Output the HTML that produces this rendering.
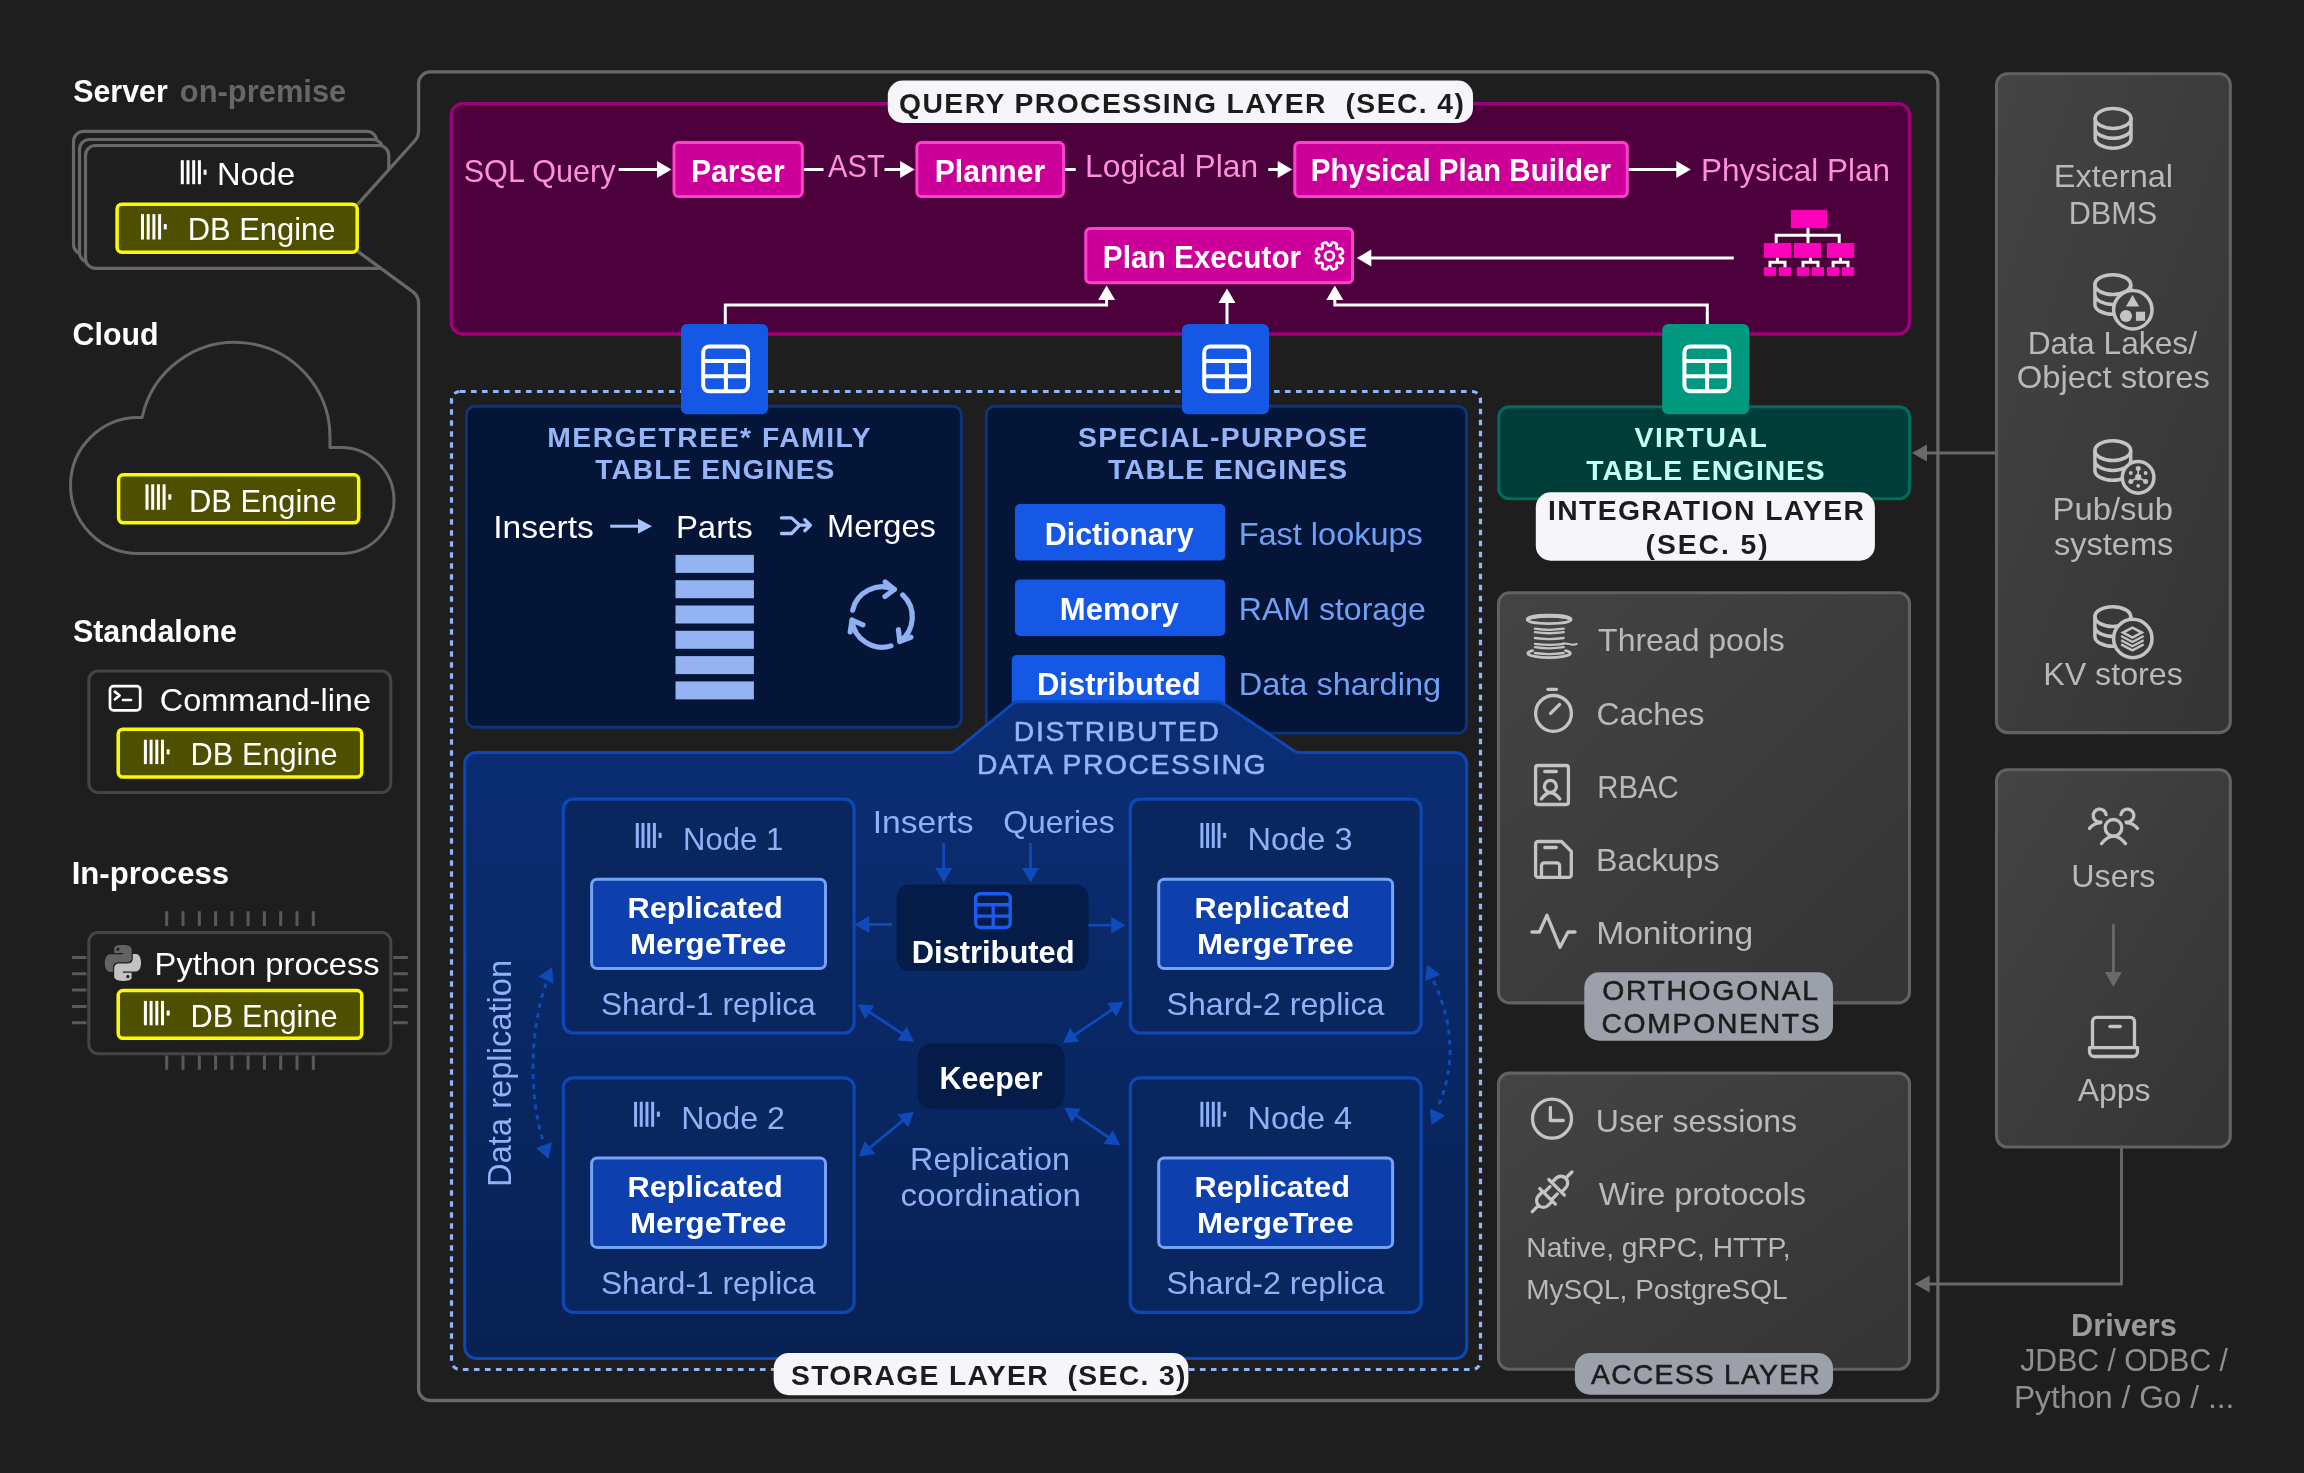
<!DOCTYPE html>
<html><head><meta charset="utf-8"><title>Architecture</title>
<style>
html,body{margin:0;padding:0;background:#1e1e1e;}
body{width:2304px;height:1473px;overflow:hidden;}
svg{display:block;font-family:"Liberation Sans",sans-serif;will-change:transform;}
text{white-space:pre;}
</style></head><body>
<svg xmlns="http://www.w3.org/2000/svg" width="2304" height="1473" viewBox="0 0 2304 1473">
<defs>
<linearGradient id="gpanel" x1="0" y1="0" x2="1" y2="1"><stop offset="0" stop-color="#444444"/><stop offset="1" stop-color="#343434"/></linearGradient>
<linearGradient id="gddp" x1="0" y1="0" x2="0" y2="1"><stop offset="0" stop-color="#0b2e76"/><stop offset="1" stop-color="#072152"/></linearGradient>
</defs>
<rect x="0" y="0" width="2304" height="1473" fill="#1e1e1e"/>
<rect x="73.5" y="131.4" width="303.3" height="122.9" rx="10" fill="#1e1e1e" stroke="#686868" stroke-width="3.2"/>
<rect x="79.5" y="139.5" width="303.3" height="122.9" rx="10" fill="#1e1e1e" stroke="#686868" stroke-width="3.2"/>
<rect x="85.5" y="145.5" width="303.3" height="122.9" rx="10" fill="#1e1e1e"/>
<path d="M388.8,169.9 V155.5 A10 10 0 0 0 378.8,145.5 H95.5 A10 10 0 0 0 85.5,155.5 V258.4 A10 10 0 0 0 95.5,268.4 H380.5" fill="none" stroke="#686868" stroke-width="3.2"/>
<path d="M357.6,204.3 L414.6,141.0 Q418.6,136.6 418.6,130.5 V83.5 A11.6 11.6 0 0 1 430.20000000000005,71.9 H1926.3000000000002 A11.6 11.6 0 0 1 1937.9,83.5 V1388.9 A11.6 11.6 0 0 1 1926.3000000000002,1400.5 H430.20000000000005 A11.6 11.6 0 0 1 418.6,1388.9 V303.5 Q418.6,296.0 413.0,291.9 L357.4,251.1" fill="none" stroke="#686868" stroke-width="3.3" stroke-linejoin="round"/>
<text x="73.2" y="101.7" font-size="31.35" fill="#fff" font-weight="700" textLength="94.6" lengthAdjust="spacingAndGlyphs">Server</text>
<text x="179.8" y="101.7" font-size="31.35" fill="#676767" font-weight="700" textLength="166.5" lengthAdjust="spacingAndGlyphs">on-premise</text>
<rect x="180.80" y="160.2" width="3.0" height="24.0" fill="#fff"/>
<rect x="186.50" y="160.2" width="3.0" height="24.0" fill="#fff"/>
<rect x="192.20" y="160.2" width="3.0" height="24.0" fill="#fff"/>
<rect x="197.90" y="160.2" width="3.0" height="24.0" fill="#fff"/>
<rect x="203.60" y="169.7" width="3.0" height="5.0" fill="#fff"/>
<text x="217.0" y="185.3" font-size="31.35" fill="#fff" textLength="78.1" lengthAdjust="spacingAndGlyphs">Node</text>
<rect x="117.1" y="204.2" width="240.1" height="48.0" rx="4.75" fill="#4f4f00" stroke="#fafa05" stroke-width="3.5"/>
<rect x="141.00" y="214.1" width="3.0" height="25.4" fill="#fff"/>
<rect x="146.70" y="214.1" width="3.0" height="25.4" fill="#fff"/>
<rect x="152.40" y="214.1" width="3.0" height="25.4" fill="#fff"/>
<rect x="158.10" y="214.1" width="3.0" height="25.4" fill="#fff"/>
<rect x="163.80" y="224.1" width="3.0" height="5.3" fill="#fff"/>
<text x="187.7" y="240.3" font-size="31.35" fill="#fff" textLength="147.7" lengthAdjust="spacingAndGlyphs">DB Engine</text>
<text x="72.6" y="344.5" font-size="31.35" fill="#fff" font-weight="700" textLength="85.9" lengthAdjust="spacingAndGlyphs">Cloud</text>
<path d="M138.5,553.5 A68 68 0 0 1 138.5,417.5 H142.1 A95 95 0 0 1 330,437 V447.5 H341 A53 53 0 0 1 341,553.5 Z" fill="none" stroke="#666666" stroke-width="3" stroke-linejoin="round"/>
<rect x="118.6" y="474.8" width="240.1" height="48.0" rx="4.75" fill="#4f4f00" stroke="#fafa05" stroke-width="3.5"/>
<rect x="145.50" y="484.3" width="3.0" height="25.5" fill="#fff"/>
<rect x="151.20" y="484.3" width="3.0" height="25.5" fill="#fff"/>
<rect x="156.90" y="484.3" width="3.0" height="25.5" fill="#fff"/>
<rect x="162.60" y="484.3" width="3.0" height="25.5" fill="#fff"/>
<rect x="168.30" y="494.3" width="3.0" height="5.4" fill="#fff"/>
<text x="189.0" y="511.5" font-size="31.35" fill="#fff" textLength="147.7" lengthAdjust="spacingAndGlyphs">DB Engine</text>
<text x="72.9" y="641.7" font-size="31.35" fill="#fff" font-weight="700" textLength="164.0" lengthAdjust="spacingAndGlyphs">Standalone</text>
<rect x="88.8" y="670.9" width="302.0" height="121.6" rx="9.5" fill="none" stroke="#454545" stroke-width="3"/>
<g fill="none" stroke="#fff" stroke-width="2.7" stroke-linecap="round" stroke-linejoin="round"><rect x="110.0" y="686.2" width="30.2" height="24.2" rx="3.5"/><path d="M114.8,691.6 L119.6,695.5 L115.0,699.3 M123.0,700.0 H131.0"/></g>
<text x="159.8" y="710.9" font-size="31.35" fill="#fff" textLength="211.2" lengthAdjust="spacingAndGlyphs">Command-line</text>
<rect x="118.2" y="729.2" width="243.5" height="47.9" rx="4.75" fill="#4f4f00" stroke="#fafa05" stroke-width="3.5"/>
<rect x="143.90" y="739.7" width="3.0" height="24.4" fill="#fff"/>
<rect x="149.60" y="739.7" width="3.0" height="24.4" fill="#fff"/>
<rect x="155.30" y="739.7" width="3.0" height="24.4" fill="#fff"/>
<rect x="161.00" y="739.7" width="3.0" height="24.4" fill="#fff"/>
<rect x="166.70" y="749.3" width="3.0" height="5.1" fill="#fff"/>
<text x="190.6" y="765.4" font-size="31.35" fill="#fff" textLength="147.1" lengthAdjust="spacingAndGlyphs">DB Engine</text>
<text x="71.7" y="884.1" font-size="31.35" fill="#fff" font-weight="700" textLength="157.4" lengthAdjust="spacingAndGlyphs">In-process</text>
<rect x="88.8" y="932.5" width="302.0" height="121.3" rx="9.5" fill="none" stroke="#454545" stroke-width="3"/>
<path d="M166.7,911.3V926M166.7,1055.5V1069.7M183.0,911.3V926M183.0,1055.5V1069.7M199.3,911.3V926M199.3,1055.5V1069.7M215.6,911.3V926M215.6,1055.5V1069.7M231.9,911.3V926M231.9,1055.5V1069.7M248.1,911.3V926M248.1,1055.5V1069.7M264.4,911.3V926M264.4,1055.5V1069.7M280.7,911.3V926M280.7,1055.5V1069.7M297.0,911.3V926M297.0,1055.5V1069.7M313.3,911.3V926M313.3,1055.5V1069.7M72,957.5H86.5M393.2,957.5H407.8M72,973.8H86.5M393.2,973.8H407.8M72,990.1H86.5M393.2,990.1H407.8M72,1006.4H86.5M393.2,1006.4H407.8M72,1022.7H86.5M393.2,1022.7H407.8" fill="none" stroke="#595959" stroke-width="3"/>
<g transform="translate(104.9,944.9) scale(1.5000)" fill-rule="evenodd"><path d="M14.25.18l.9.2.73.26.59.3.45.32.34.34.25.34.16.33.1.3.04.26.02.2-.01.13V8.5l-.05.63-.13.55-.21.46-.26.38-.3.31-.33.25-.35.19-.35.14-.33.1-.3.07-.26.04-.21.02H8.77l-.69.05-.59.14-.5.22-.41.27-.33.32-.27.35-.2.36-.15.37-.1.35-.07.32-.04.27-.02.21v3.06H3.17l-.21-.03-.28-.07-.32-.12-.35-.18-.36-.26-.36-.36-.35-.46-.32-.59-.28-.73-.21-.88-.14-1.05-.05-1.23.06-1.22.16-1.04.24-.87.32-.71.36-.57.4-.44.42-.33.42-.24.4-.16.36-.1.32-.05.24-.01h.16l.06.01h8.16v-.83H6.18l-.01-2.75-.02-.37.05-.34.11-.31.17-.28.25-.26.31-.23.38-.2.44-.18.51-.15.58-.12.64-.1.71-.06.77-.04.84-.02 1.27.05zM7.95 2.16l-.23.33-.08.41.08.41.23.34.33.22.41.09.41-.09.33-.22.23-.34.08-.41-.08-.41-.23-.33-.33-.22-.41-.09-.41.09z" fill="#636363"/><path d="M21.04 6.11l.28.06.32.12.35.18.36.27.36.35.35.47.32.59.28.73.21.88.14 1.04.05 1.23-.06 1.23-.16 1.04-.24.86-.32.71-.36.57-.4.45-.42.33-.42.24-.4.16-.36.09-.32.05-.24.02-.16-.01h-8.22v.82h5.84l.01 2.76.02.36-.05.34-.11.31-.17.29-.25.25-.31.24-.38.2-.44.17-.51.15-.58.13-.64.09-.71.07-.77.04-.84.01-1.27-.04-1.07-.14-.9-.2-.73-.25-.59-.3-.45-.33-.34-.34-.25-.34-.16-.33-.1-.3-.04-.25-.02-.2.01-.13v-5.34l.05-.64.13-.54.21-.46.26-.38.3-.32.33-.24.35-.2.35-.14.33-.1.3-.06.26-.04.21-.02.13-.01h5.84l.69-.05.59-.14.5-.21.41-.28.33-.32.27-.35.2-.36.15-.36.1-.35.07-.32.04-.28.02-.21V6.07h2.09l.14.01zM14.57 20.36l-.23.33-.08.41.08.41.23.33.33.23.41.08.41-.08.33-.23.23-.33.08-.41-.08-.41-.23-.33-.33-.23-.41-.08-.41.08z" fill="#c2c2c2"/></g>
<text x="154.6" y="975.1" font-size="31.35" fill="#fff" textLength="225.1" lengthAdjust="spacingAndGlyphs">Python process</text>
<rect x="118.2" y="990.5" width="243.5" height="47.8" rx="4.75" fill="#4f4f00" stroke="#fafa05" stroke-width="3.5"/>
<rect x="143.90" y="1000.9" width="3.0" height="24.4" fill="#fff"/>
<rect x="149.60" y="1000.9" width="3.0" height="24.4" fill="#fff"/>
<rect x="155.30" y="1000.9" width="3.0" height="24.4" fill="#fff"/>
<rect x="161.00" y="1000.9" width="3.0" height="24.4" fill="#fff"/>
<rect x="166.70" y="1010.5" width="3.0" height="5.1" fill="#fff"/>
<text x="190.6" y="1027.1" font-size="31.35" fill="#fff" textLength="147.1" lengthAdjust="spacingAndGlyphs">DB Engine</text>
<rect x="451.3" y="103.6" width="1458.1" height="230.4" rx="11.35" fill="#4c003c" stroke="#9e007a" stroke-width="3.3"/>
<rect x="887.8" y="80.5" width="585.2" height="42.5" rx="15" fill="#f5f5fa"/>
<text x="899.1" y="113.1" font-size="28.29" fill="#1c1c1c" font-weight="700" textLength="564.8" lengthAdjust="spacing">QUERY PROCESSING LAYER  (SEC. 4)</text>
<text x="463.7" y="181.5" font-size="31.35" fill="#ff8fe0" textLength="151.9" lengthAdjust="spacingAndGlyphs">SQL Query</text>
<path d="M618.7,169.5 L658.0,169.5" fill="none" stroke="#fff" stroke-width="3"/>
<polygon points="671.5,169.5 657.0,178.0 657.0,161.0" fill="#fff"/>
<rect x="674.0" y="142.5" width="128.3" height="54.0" rx="4.5" fill="#cc0099" stroke="#ff40cc" stroke-width="3"/>
<text x="691.0" y="181.5" font-size="31.35" fill="#fff" font-weight="700" textLength="93.8" lengthAdjust="spacingAndGlyphs">Parser</text>
<line x1="803.8" y1="169.5" x2="823.5" y2="169.5" stroke="#fff" stroke-width="3" />
<text x="828.1" y="177.3" font-size="31.35" fill="#ff8fe0" textLength="56.7" lengthAdjust="spacingAndGlyphs">AST</text>
<path d="M884.5,169.5 L901.1,169.5" fill="none" stroke="#fff" stroke-width="3"/>
<polygon points="914.6,169.5 900.1,178.0 900.1,161.0" fill="#fff"/>
<rect x="916.9" y="142.5" width="146.6" height="54.0" rx="4.5" fill="#cc0099" stroke="#ff40cc" stroke-width="3"/>
<text x="934.7" y="181.5" font-size="31.35" fill="#fff" font-weight="700" textLength="110.5" lengthAdjust="spacingAndGlyphs">Planner</text>
<line x1="1065.0" y1="169.5" x2="1075.7" y2="169.5" stroke="#fff" stroke-width="3" />
<text x="1085.1" y="177.4" font-size="31.35" fill="#ff8fe0" textLength="173.0" lengthAdjust="spacingAndGlyphs">Logical Plan</text>
<path d="M1268.3,169.5 L1278.7,169.5" fill="none" stroke="#fff" stroke-width="3"/>
<polygon points="1292.2,169.5 1277.7,178.0 1277.7,161.0" fill="#fff"/>
<rect x="1294.8" y="142.5" width="332.5" height="54.0" rx="4.5" fill="#cc0099" stroke="#ff40cc" stroke-width="3"/>
<text x="1310.8" y="181.3" font-size="31.35" fill="#fff" font-weight="700" textLength="300.2" lengthAdjust="spacingAndGlyphs">Physical Plan Builder</text>
<path d="M1628.8,169.5 L1677.3,169.5" fill="none" stroke="#fff" stroke-width="3"/>
<polygon points="1690.8,169.5 1676.3,178.0 1676.3,161.0" fill="#fff"/>
<text x="1701.0" y="181.3" font-size="31.35" fill="#ff8fe0" textLength="188.9" lengthAdjust="spacingAndGlyphs">Physical Plan</text>
<rect x="1085.8" y="228.5" width="266.7" height="54.3" rx="4.5" fill="#cc0099" stroke="#ff40cc" stroke-width="3"/>
<text x="1102.8" y="268.1" font-size="31.35" fill="#fff" font-weight="700" textLength="198.4" lengthAdjust="spacingAndGlyphs">Plan Executor</text>
<g fill="none" stroke="#fff" stroke-width="2.7" stroke-linejoin="round"><path d="M1339.86,255.90L1339.87,256.24L1339.94,256.58L1340.13,256.95L1340.63,257.37L1341.58,257.89L1342.51,258.49L1342.93,259.03L1342.99,259.52L1342.92,259.97L1342.80,260.41L1342.65,260.85L1342.48,261.28L1342.30,261.70L1342.09,262.11L1341.87,262.51L1341.60,262.88L1341.21,263.18L1340.53,263.27L1339.45,263.03L1338.41,262.73L1337.75,262.67L1337.36,262.80L1337.07,262.99L1336.82,263.22L1336.59,263.47L1336.40,263.76L1336.27,264.15L1336.33,264.81L1336.63,265.85L1336.87,266.93L1336.78,267.61L1336.48,268.00L1336.11,268.27L1335.71,268.49L1335.30,268.70L1334.88,268.88L1334.45,269.05L1334.01,269.20L1333.57,269.32L1333.12,269.39L1332.63,269.33L1332.09,268.91L1331.49,267.98L1330.97,267.03L1330.55,266.53L1330.18,266.34L1329.84,266.27L1329.50,266.26L1329.16,266.27L1328.82,266.34L1328.45,266.53L1328.03,267.03L1327.51,267.98L1326.91,268.91L1326.37,269.33L1325.88,269.39L1325.43,269.32L1324.99,269.20L1324.55,269.05L1324.12,268.88L1323.70,268.70L1323.29,268.49L1322.89,268.27L1322.52,268.00L1322.22,267.61L1322.13,266.93L1322.37,265.85L1322.67,264.81L1322.73,264.15L1322.60,263.76L1322.41,263.47L1322.18,263.22L1321.93,262.99L1321.64,262.80L1321.25,262.67L1320.59,262.73L1319.55,263.03L1318.47,263.27L1317.79,263.18L1317.40,262.88L1317.13,262.51L1316.91,262.11L1316.70,261.70L1316.52,261.28L1316.35,260.85L1316.20,260.41L1316.08,259.97L1316.01,259.52L1316.07,259.03L1316.49,258.49L1317.42,257.89L1318.37,257.37L1318.87,256.95L1319.06,256.58L1319.13,256.24L1319.14,255.90L1319.13,255.56L1319.06,255.22L1318.87,254.85L1318.37,254.43L1317.42,253.91L1316.49,253.31L1316.07,252.77L1316.01,252.28L1316.08,251.83L1316.20,251.39L1316.35,250.95L1316.52,250.52L1316.70,250.10L1316.91,249.69L1317.13,249.29L1317.40,248.92L1317.79,248.62L1318.47,248.53L1319.55,248.77L1320.59,249.07L1321.25,249.13L1321.64,249.00L1321.93,248.81L1322.18,248.58L1322.41,248.33L1322.60,248.04L1322.73,247.65L1322.67,246.99L1322.37,245.95L1322.13,244.87L1322.22,244.19L1322.52,243.80L1322.89,243.53L1323.29,243.31L1323.70,243.10L1324.12,242.92L1324.55,242.75L1324.99,242.60L1325.43,242.48L1325.88,242.41L1326.37,242.47L1326.91,242.89L1327.51,243.82L1328.03,244.77L1328.45,245.27L1328.82,245.46L1329.16,245.53L1329.50,245.54L1329.84,245.53L1330.18,245.46L1330.55,245.27L1330.97,244.77L1331.49,243.82L1332.09,242.89L1332.63,242.47L1333.12,242.41L1333.57,242.48L1334.01,242.60L1334.45,242.75L1334.88,242.92L1335.30,243.10L1335.71,243.31L1336.11,243.53L1336.48,243.80L1336.78,244.19L1336.87,244.87L1336.63,245.95L1336.33,246.99L1336.27,247.65L1336.40,248.04L1336.59,248.33L1336.82,248.58L1337.07,248.81L1337.36,249.00L1337.75,249.13L1338.41,249.07L1339.45,248.77L1340.53,248.53L1341.21,248.62L1341.60,248.92L1341.87,249.29L1342.09,249.69L1342.30,250.10L1342.48,250.52L1342.65,250.95L1342.80,251.39L1342.92,251.83L1342.99,252.28L1342.93,252.77L1342.51,253.31L1341.58,253.91L1340.63,254.43L1340.13,254.85L1339.94,255.22L1339.87,255.56Z"/><circle cx="1329.5" cy="255.9" r="4.4"/></g>
<path d="M1733.8,258.0 L1370.3,258.0" fill="none" stroke="#fff" stroke-width="3"/>
<polygon points="1356.8,258.0 1371.3,249.5 1371.3,266.5" fill="#fff"/>
<path d="M1808,227V244 M1776.2,244V235.2H1839.2V244 M1777.4,257V262.2 M1770,268V262.2H1785V268 M1810.4,257V262.2 M1803,268V262.2H1818V268 M1840.5,257V262.2 M1833.1,268V262.2H1848V268" fill="none" stroke="#fff" stroke-width="3"/>
<g fill="#ff00bb"><rect x="1790.9" y="209.9" width="36.2" height="18.2"/><rect x="1763.9" y="243.0" width="27.2" height="14.9"/><rect x="1794.0" y="243.0" width="27.0" height="14.9"/><rect x="1826.9" y="243.0" width="27.3" height="14.9"/><rect x="1763.9" y="267.1" width="12.2" height="8.8"/><rect x="1778.9" y="267.1" width="12.2" height="8.8"/><rect x="1796.9" y="267.1" width="12.2" height="8.8"/><rect x="1812.0" y="267.1" width="12.0" height="8.8"/><rect x="1826.9" y="267.1" width="12.2" height="8.8"/><rect x="1842.0" y="267.1" width="12.2" height="8.8"/></g>
<path d="M725.3,326.0 L725.3,305.0 L1106.6,305.0 L1106.6,299.1" fill="none" stroke="#fff" stroke-width="3"/>
<polygon points="1106.6,285.6 1115.1,300.1 1098.1,300.1" fill="#fff"/>
<path d="M1227.0,326.0 L1227.0,302.0" fill="none" stroke="#fff" stroke-width="3"/>
<polygon points="1227.0,288.5 1235.5,303.0 1218.5,303.0" fill="#fff"/>
<path d="M1707.3,326.0 L1707.3,305.0 L1334.8,305.0 L1334.8,299.1" fill="none" stroke="#fff" stroke-width="3"/>
<polygon points="1334.8,285.6 1343.3,300.1 1326.3,300.1" fill="#fff"/>
<rect x="451.5" y="391.5" width="1029.0" height="978.0" rx="8.5" fill="none" stroke="#8fb6fb" stroke-width="3.2" stroke-dasharray="5.6 5.4"/>
<rect x="466.4" y="406.3" width="494.9" height="320.9" rx="8.5" fill="#051537" stroke="#0d3379" stroke-width="3"/>
<text x="547.2" y="446.6" font-size="28.29" fill="#95b5f8" font-weight="700" textLength="323.4" lengthAdjust="spacing">MERGETREE* FAMILY</text>
<text x="595.3" y="479.4" font-size="28.29" fill="#95b5f8" font-weight="700" textLength="239.1" lengthAdjust="spacing">TABLE ENGINES</text>
<text x="493.2" y="538.0" font-size="31.35" fill="#fff" textLength="100.7" lengthAdjust="spacingAndGlyphs">Inserts</text>
<path d="M610.2,526.2 L639.0,526.2" fill="none" stroke="#a6c3fb" stroke-width="3"/>
<polygon points="652.0,526.2 638.0,533.7 638.0,518.7" fill="#a6c3fb"/>
<text x="675.9" y="538.0" font-size="31.35" fill="#fff" textLength="76.9" lengthAdjust="spacingAndGlyphs">Parts</text>
<text x="827.1" y="537.3" font-size="31.35" fill="#fff" textLength="108.8" lengthAdjust="spacingAndGlyphs">Merges</text>
<rect x="675.5" y="554.9" width="78.4" height="18" fill="#93b3f3"/>
<rect x="675.5" y="580.2" width="78.4" height="18" fill="#93b3f3"/>
<rect x="675.5" y="605.5" width="78.4" height="18" fill="#93b3f3"/>
<rect x="675.5" y="630.8" width="78.4" height="18" fill="#93b3f3"/>
<rect x="675.5" y="656.1" width="78.4" height="18" fill="#93b3f3"/>
<rect x="675.5" y="681.4" width="78.4" height="18" fill="#93b3f3"/>
<path d="M781.5,517.9H791.6L799.6,525.2 M781.5,533.5H791.6L799.6,525.2H810 M804.8,519.7L810.4,525.2L804.8,530.7" fill="none" stroke="#a6c3fb" stroke-width="3.3" stroke-linecap="round" stroke-linejoin="round"/>
<g fill="none" stroke="#8fb0f3" stroke-width="5.2" stroke-linecap="round" stroke-linejoin="round"><path d="M852.67,610.21A30.2 30.2 0 0 1 894.38,589.41"/><path d="M885.21,581.98L894.38,589.41L884.96,596.51"/><path d="M902.70,594.91A30.2 30.2 0 0 1 899.85,641.43"/><path d="M910.87,637.20L899.85,641.43L898.41,629.72"/><path d="M890.93,645.88A30.2 30.2 0 0 1 852.07,620.16"/><path d="M850.22,631.81L852.07,620.16L862.93,624.77"/></g>
<rect x="986.3" y="406.3" width="480.2" height="326.9" rx="8.5" fill="#051537" stroke="#0d3379" stroke-width="3"/>
<text x="1078.0" y="446.6" font-size="28.29" fill="#95b5f8" font-weight="700" textLength="289.1" lengthAdjust="spacing">SPECIAL-PURPOSE</text>
<text x="1108.0" y="479.4" font-size="28.29" fill="#95b5f8" font-weight="700" textLength="239.2" lengthAdjust="spacing">TABLE ENGINES</text>
<rect x="1015.0" y="504.0" width="210.2" height="56.6" rx="5" fill="#1558e5"/>
<text x="1044.7" y="544.5" font-size="31.35" fill="#fff" font-weight="700" textLength="148.9" lengthAdjust="spacingAndGlyphs">Dictionary</text>
<text x="1238.7" y="544.5" font-size="31.35" fill="#71a0f7" textLength="184.1" lengthAdjust="spacingAndGlyphs">Fast lookups</text>
<rect x="1015.0" y="579.4" width="210.2" height="56.6" rx="5" fill="#1558e5"/>
<text x="1059.8" y="620.1" font-size="31.35" fill="#fff" font-weight="700" textLength="119.0" lengthAdjust="spacingAndGlyphs">Memory</text>
<text x="1238.8" y="620.1" font-size="31.35" fill="#71a0f7" textLength="187.0" lengthAdjust="spacingAndGlyphs">RAM storage</text>
<rect x="1011.8" y="655.0" width="213.4" height="60.0" rx="5" fill="#1558e5"/>
<text x="1036.9" y="695.4" font-size="31.35" fill="#fff" font-weight="700" textLength="163.7" lengthAdjust="spacingAndGlyphs">Distributed</text>
<text x="1238.7" y="695.4" font-size="31.35" fill="#71a0f7" textLength="202.4" lengthAdjust="spacingAndGlyphs">Data sharding</text>
<path d="M476.2,752.5 H949.5 Q953.3,752.5 956.2,750.1 L1012.3,704.2 Q1015.2,701.8 1019,701.8 H1217 Q1220.9,701.8 1224,703.9 L1293.4,750.4 Q1296.6,752.5 1300.5,752.5 H1455.2 A11.5 11.5 0 0 1 1466.7,764.0 V1347.0 A11.5 11.5 0 0 1 1455.2,1358.5 H476.2 A11.5 11.5 0 0 1 464.7,1347.0 V764.0 A11.5 11.5 0 0 1 476.2,752.5 Z" fill="url(#gddp)" stroke="#0e47b6" stroke-width="3"/>
<text x="1013.8" y="741.1" font-size="28.29" fill="#95b5f8" textLength="205.1" lengthAdjust="spacing" stroke="#95b5f8" stroke-width="0.55">DISTRIBUTED</text>
<text x="976.9" y="774.1" font-size="28.29" fill="#95b5f8" textLength="288.6" lengthAdjust="spacing" stroke="#95b5f8" stroke-width="0.55">DATA PROCESSING</text>
<rect x="563.3" y="799.1" width="290.8" height="233.9" rx="9.9" fill="#09265f" stroke="#0e47b6" stroke-width="3.2"/>
<rect x="635.80" y="823.0" width="3.0" height="25.0" fill="#90b1f6"/>
<rect x="641.50" y="823.0" width="3.0" height="25.0" fill="#90b1f6"/>
<rect x="647.20" y="823.0" width="3.0" height="25.0" fill="#90b1f6"/>
<rect x="652.90" y="823.0" width="3.0" height="25.0" fill="#90b1f6"/>
<rect x="658.60" y="832.8" width="3.0" height="5.2" fill="#90b1f6"/>
<text x="683.1" y="849.7" font-size="31.35" fill="#90b1f6" textLength="100.1" lengthAdjust="spacingAndGlyphs">Node 1</text>
<rect x="591.6" y="879.2" width="233.9" height="89.4" rx="5.5" fill="#0d40ad" stroke="#78a2f8" stroke-width="3"/>
<text x="627.5" y="918.4" font-size="30.3" fill="#fff" font-weight="700" textLength="155.3" lengthAdjust="spacingAndGlyphs">Replicated</text>
<text x="629.9" y="954.0" font-size="30.3" fill="#fff" font-weight="700" textLength="156.6" lengthAdjust="spacingAndGlyphs">MergeTree</text>
<text x="601.0" y="1015.4" font-size="31.35" fill="#90b1f6" textLength="214.7" lengthAdjust="spacingAndGlyphs">Shard-1 replica</text>
<rect x="563.3" y="1077.9" width="290.8" height="234.4" rx="9.9" fill="#09265f" stroke="#0e47b6" stroke-width="3.2"/>
<rect x="634.05" y="1101.8" width="3.0" height="25.0" fill="#90b1f6"/>
<rect x="639.75" y="1101.8" width="3.0" height="25.0" fill="#90b1f6"/>
<rect x="645.45" y="1101.8" width="3.0" height="25.0" fill="#90b1f6"/>
<rect x="651.15" y="1101.8" width="3.0" height="25.0" fill="#90b1f6"/>
<rect x="656.85" y="1111.6" width="3.0" height="5.2" fill="#90b1f6"/>
<text x="681.2" y="1128.5" font-size="31.35" fill="#90b1f6" textLength="103.8" lengthAdjust="spacingAndGlyphs">Node 2</text>
<rect x="591.6" y="1158.0" width="233.9" height="89.4" rx="5.5" fill="#0d40ad" stroke="#78a2f8" stroke-width="3"/>
<text x="627.5" y="1197.2" font-size="30.3" fill="#fff" font-weight="700" textLength="155.3" lengthAdjust="spacingAndGlyphs">Replicated</text>
<text x="629.9" y="1232.8" font-size="30.3" fill="#fff" font-weight="700" textLength="156.6" lengthAdjust="spacingAndGlyphs">MergeTree</text>
<text x="601.0" y="1294.2" font-size="31.35" fill="#90b1f6" textLength="214.7" lengthAdjust="spacingAndGlyphs">Shard-1 replica</text>
<rect x="1130.3" y="799.1" width="290.8" height="233.9" rx="9.9" fill="#09265f" stroke="#0e47b6" stroke-width="3.2"/>
<rect x="1200.40" y="823.0" width="3.0" height="25.0" fill="#90b1f6"/>
<rect x="1206.10" y="823.0" width="3.0" height="25.0" fill="#90b1f6"/>
<rect x="1211.80" y="823.0" width="3.0" height="25.0" fill="#90b1f6"/>
<rect x="1217.50" y="823.0" width="3.0" height="25.0" fill="#90b1f6"/>
<rect x="1223.20" y="832.8" width="3.0" height="5.2" fill="#90b1f6"/>
<text x="1247.5" y="849.7" font-size="31.35" fill="#90b1f6" textLength="105.0" lengthAdjust="spacingAndGlyphs">Node 3</text>
<rect x="1158.7" y="879.2" width="233.9" height="89.4" rx="5.5" fill="#0d40ad" stroke="#78a2f8" stroke-width="3"/>
<text x="1194.6" y="918.4" font-size="30.3" fill="#fff" font-weight="700" textLength="155.3" lengthAdjust="spacingAndGlyphs">Replicated</text>
<text x="1197.0" y="954.0" font-size="30.3" fill="#fff" font-weight="700" textLength="156.6" lengthAdjust="spacingAndGlyphs">MergeTree</text>
<text x="1166.5" y="1015.4" font-size="31.35" fill="#90b1f6" textLength="217.9" lengthAdjust="spacingAndGlyphs">Shard-2 replica</text>
<rect x="1130.3" y="1077.9" width="290.8" height="234.4" rx="9.9" fill="#09265f" stroke="#0e47b6" stroke-width="3.2"/>
<rect x="1200.40" y="1101.8" width="3.0" height="25.0" fill="#90b1f6"/>
<rect x="1206.10" y="1101.8" width="3.0" height="25.0" fill="#90b1f6"/>
<rect x="1211.80" y="1101.8" width="3.0" height="25.0" fill="#90b1f6"/>
<rect x="1217.50" y="1101.8" width="3.0" height="25.0" fill="#90b1f6"/>
<rect x="1223.20" y="1111.6" width="3.0" height="5.2" fill="#90b1f6"/>
<text x="1247.5" y="1128.5" font-size="31.35" fill="#90b1f6" textLength="104.5" lengthAdjust="spacingAndGlyphs">Node 4</text>
<rect x="1158.7" y="1158.0" width="233.9" height="89.4" rx="5.5" fill="#0d40ad" stroke="#78a2f8" stroke-width="3"/>
<text x="1194.6" y="1197.2" font-size="30.3" fill="#fff" font-weight="700" textLength="155.3" lengthAdjust="spacingAndGlyphs">Replicated</text>
<text x="1197.0" y="1232.8" font-size="30.3" fill="#fff" font-weight="700" textLength="156.6" lengthAdjust="spacingAndGlyphs">MergeTree</text>
<text x="1166.5" y="1294.2" font-size="31.35" fill="#90b1f6" textLength="217.9" lengthAdjust="spacingAndGlyphs">Shard-2 replica</text>
<text x="872.7" y="833.1" font-size="31.35" fill="#90b1f6" textLength="100.8" lengthAdjust="spacingAndGlyphs">Inserts</text>
<text x="1003.2" y="833.1" font-size="31.35" fill="#90b1f6" textLength="111.6" lengthAdjust="spacingAndGlyphs">Queries</text>
<path d="M943.7,843.0 L943.7,869.0" fill="none" stroke="#1049ba" stroke-width="2.8"/>
<polygon points="943.7,882.5 935.3,868.0 952.1,868.0" fill="#1049ba"/>
<path d="M1030.5,843.0 L1030.5,869.0" fill="none" stroke="#1049ba" stroke-width="2.8"/>
<polygon points="1030.5,882.5 1022.1,868.0 1038.9,868.0" fill="#1049ba"/>
<rect x="896.6" y="884.4" width="192.0" height="86.6" rx="13" fill="#051c49"/>
<g fill="none" stroke="#1b5cf0" stroke-width="3.4">
<rect x="975.7" y="893.7" width="34.5" height="33.8" rx="4.5"/>
<path d="M975.7,904.8H1010.2M975.7,916.1H1010.2M993.2,904.8V927.5"/>
</g>
<text x="911.7" y="962.7" font-size="31.35" fill="#fff" font-weight="700" textLength="162.9" lengthAdjust="spacingAndGlyphs">Distributed</text>
<path d="M892.0,924.5 L868.1,924.5" fill="none" stroke="#1049ba" stroke-width="2.8"/>
<polygon points="854.6,924.5 869.1,916.1 869.1,932.9" fill="#1049ba"/>
<path d="M1088.6,925.2 L1112.1,925.2" fill="none" stroke="#1049ba" stroke-width="2.8"/>
<polygon points="1125.6,925.2 1111.1,933.6 1111.1,916.8" fill="#1049ba"/>
<rect x="917.9" y="1043.6" width="146.8" height="65.2" rx="13" fill="#051c49"/>
<text x="939.5" y="1089.4" font-size="31.35" fill="#fff" font-weight="700" textLength="103.1" lengthAdjust="spacingAndGlyphs">Keeper</text>
<polygon points="857.8,1004.3 874.4,1005.5 865.3,1019.2" fill="#1049ba"/>
<path d="M869.0,1011.8 L902.8,1034.2" fill="none" stroke="#1049ba" stroke-width="2.8"/>
<polygon points="914.0,1041.7 897.4,1040.5 906.5,1026.8" fill="#1049ba"/>
<polygon points="1123.6,1001.7 1116.3,1016.7 1107.0,1003.0" fill="#1049ba"/>
<path d="M1112.4,1009.3 L1074.1,1035.4" fill="none" stroke="#1049ba" stroke-width="2.8"/>
<polygon points="1062.9,1043.0 1070.2,1028.0 1079.5,1041.7" fill="#1049ba"/>
<polygon points="858.8,1156.6 864.8,1141.1 875.3,1153.9" fill="#1049ba"/>
<path d="M869.3,1148.1 L903.5,1120.2" fill="none" stroke="#1049ba" stroke-width="2.8"/>
<polygon points="914.0,1111.7 908.0,1127.2 897.5,1114.4" fill="#1049ba"/>
<polygon points="1120.2,1145.2 1103.6,1143.9 1112.8,1130.2" fill="#1049ba"/>
<path d="M1109.0,1137.6 L1075.5,1115.0" fill="none" stroke="#1049ba" stroke-width="2.8"/>
<polygon points="1064.3,1107.4 1080.9,1108.7 1071.7,1122.4" fill="#1049ba"/>
<text x="910.1" y="1169.7" font-size="31.35" fill="#90b1f6" textLength="159.8" lengthAdjust="spacingAndGlyphs">Replication</text>
<text x="900.6" y="1205.5" font-size="31.35" fill="#90b1f6" textLength="180.4" lengthAdjust="spacingAndGlyphs">coordination</text>
<g transform="translate(510.6,1184.3) rotate(-90)">
<text x="-2.7" y="0.0" font-size="32.92" fill="#90b1f6" textLength="227.1" lengthAdjust="spacingAndGlyphs">Data replication</text>
</g>
<path d="M546.0,983.5 C530,1030 528.5,1095 543.2,1141" fill="none" stroke="#1049ba" stroke-width="3.0" stroke-dasharray="4.9 5.3"/>
<polygon points="552.0,967.3 553.6,983.7 538.4,976.6" fill="#1049ba"/>
<polygon points="548.5,1158.7 535.8,1147.9 551.8,1142.3" fill="#1049ba"/>
<path d="M1433.5,981 C1454.5,1025 1455,1070 1437.2,1108.5" fill="none" stroke="#1049ba" stroke-width="3.0" stroke-dasharray="4.9 5.3"/>
<polygon points="1427.0,964.8 1440.4,974.4 1425.1,981.2" fill="#1049ba"/>
<polygon points="1431.5,1125.0 1429.9,1108.4 1445.3,1115.5" fill="#1049ba"/>
<rect x="773.7" y="1353.0" width="414.7" height="42.2" rx="15" fill="#f5f5fa"/>
<text x="790.9" y="1385.3" font-size="28.29" fill="#1c1c1c" font-weight="700" textLength="394.5" lengthAdjust="spacing">STORAGE LAYER  (SEC. 3)</text>
<rect x="1498.7" y="406.8" width="410.9" height="91.9" rx="10.5" fill="#003d38" stroke="#006c5c" stroke-width="3"/>
<text x="1634.6" y="447.1" font-size="28.29" fill="#c0fff4" font-weight="700" textLength="132.3" lengthAdjust="spacing">VIRTUAL</text>
<text x="1586.3" y="480.1" font-size="28.29" fill="#c0fff4" font-weight="700" textLength="238.4" lengthAdjust="spacing">TABLE ENGINES</text>
<rect x="1535.8" y="492.3" width="339.1" height="68.4" rx="15" fill="#f5f5fa"/>
<text x="1547.9" y="520.1" font-size="28.29" fill="#1c1c1c" font-weight="700" textLength="316.1" lengthAdjust="spacing">INTEGRATION LAYER</text>
<text x="1645.6" y="553.9" font-size="28.29" fill="#1c1c1c" font-weight="700" textLength="122.1" lengthAdjust="spacing">(SEC. 5)</text>
<rect x="681.0" y="324.0" width="87.0" height="90.2" rx="6" fill="#1558e5"/>
<g fill="none" stroke="#fff" stroke-width="4">
<rect x="703.2" y="346.4" width="44.8" height="44.9" rx="6"/>
<path d="M703.2,361.1H748.0M703.2,376.2H748.0M725.9,361.1V391.3"/>
</g>
<rect x="1182.0" y="324.0" width="87.0" height="90.2" rx="6" fill="#1558e5"/>
<g fill="none" stroke="#fff" stroke-width="4">
<rect x="1204.2" y="346.4" width="44.8" height="44.9" rx="6"/>
<path d="M1204.2,361.1H1249.0M1204.2,376.2H1249.0M1226.9,361.1V391.3"/>
</g>
<rect x="1662.2" y="324.0" width="87.0" height="90.2" rx="6" fill="#009980"/>
<g fill="none" stroke="#fff" stroke-width="4">
<rect x="1684.4" y="346.4" width="44.8" height="44.9" rx="6"/>
<path d="M1684.4,361.1H1729.2M1684.4,376.2H1729.2M1707.1,361.1V391.3"/>
</g>
<rect x="1498.5" y="592.8" width="411.0" height="410.1" rx="10.95" fill="url(#gpanel)" stroke="#626262" stroke-width="3.1"/>
<rect x="1498.5" y="1073.1" width="411.0" height="296.2" rx="10.95" fill="url(#gpanel)" stroke="#626262" stroke-width="3.1"/>
<g fill="none" stroke="#c4c4c4" stroke-width="3.3" stroke-linecap="round" stroke-linejoin="round"><ellipse cx="1549.1" cy="620.0" rx="21.3" ry="3.6" stroke-width="2.6"/><path d="M1527.6,619.5 A21.5 3.9 0 0 1 1570.6,619.5" stroke-width="3.8"/><path d="M1532.6,650.6 A21.3 4.2 0 1 0 1565.6,650.6" stroke-width="2.8"/><path d="M1534.8999999999999,628.7 Q1549.1,631.0 1563.6999999999998,628.7" stroke-width="2.3"/><path d="M1534.8999999999999,632.1 Q1549.1,634.4 1563.6999999999998,632.1" stroke-width="2.3"/><path d="M1534.8999999999999,638.0 Q1549.1,640.3 1563.6999999999998,638.0" stroke-width="2.3"/><path d="M1534.8999999999999,643.8 Q1549.1,646.0999999999999 1563.6999999999998,643.8" stroke-width="2.3"/><path d="M1534.8999999999999,647.2 Q1549.1,649.5 1563.6999999999998,647.2" stroke-width="2.3"/><path d="M1534.8999999999999,653.0 Q1549.1,655.3 1563.6999999999998,653.0" stroke-width="2.3"/><path d="M1563.1,643.6 C1569.1,642.6 1571.1,646.4 1576.6999999999998,643.9" stroke-width="2.0"/></g>
<g fill="none" stroke="#c4c4c4" stroke-width="3.3" stroke-linecap="round" stroke-linejoin="round"><circle cx="1553.5" cy="713.4" r="17.9"/><path d="M1547.9,689.3H1556.5 M1550.6,713.4L1559.6,704.4"/></g>
<g fill="none" stroke="#c4c4c4" stroke-width="3.3" stroke-linecap="round" stroke-linejoin="round"><rect x="1535.6" y="765.5" width="32.8" height="39.0" rx="2.2"/><path d="M1544.8,771.5H1556.2"/><circle cx="1550.4" cy="786.4" r="6.0"/><path d="M1541.3,799 Q1550.4,786.5 1559.9,799"/></g>
<g fill="none" stroke="#c4c4c4" stroke-width="3.3" stroke-linecap="round" stroke-linejoin="round"><path d="M1538.2,841.5H1561.5L1571.3,851.3V874.8A2.6 2.6 0 0 1 1568.7,877.4H1538.2A2.6 2.6 0 0 1 1535.6,874.8V844.1A2.6 2.6 0 0 1 1538.2,841.5Z"/><path d="M1544.8,847.5H1556.2 M1541.5,877.4V865.6A2.8 2.8 0 0 1 1544.3,862.8H1556.8A2.8 2.8 0 0 1 1559.6,865.6V877.4"/></g>
<g fill="none" stroke="#c4c4c4" stroke-width="3.3" stroke-linecap="round" stroke-linejoin="round"><path d="M1531.9,932H1539.4L1547,915.3L1560,947.3L1568,932H1575.1"/></g>
<g fill="none" stroke="#c4c4c4" stroke-width="3.3" stroke-linecap="round" stroke-linejoin="round"><circle cx="1552.0" cy="1118.7" r="19.5"/><path d="M1550.4,1107.3V1120.5H1563.3"/></g>
<g fill="none" stroke="#c4c4c4" stroke-width="3.3" stroke-linecap="round" stroke-linejoin="round"><g transform="translate(1552.1,1191.8) rotate(-45)"><path d="M-28,0H-19.2 M-6.4,-6.8H-12.4A6.8 6.8 0 0 0 -12.4,6.8H-6.4 M-6.4,-11V11 M-6.4,-5.2H2.2 M-6.4,5.2H2.2 M28,0H19.2 M6.4,-6.8H12.4A6.8 6.8 0 0 1 12.4,6.8H6.4 M6.4,-11V11"/></g></g>
<text x="1598.1" y="651.2" font-size="31.35" fill="#b9b9b9" textLength="186.7" lengthAdjust="spacingAndGlyphs">Thread pools</text>
<text x="1596.5" y="724.5" font-size="31.35" fill="#b9b9b9" textLength="108.0" lengthAdjust="spacingAndGlyphs">Caches</text>
<text x="1597.2" y="797.5" font-size="31.35" fill="#b9b9b9" textLength="81.6" lengthAdjust="spacingAndGlyphs">RBAC</text>
<text x="1596.0" y="870.7" font-size="31.35" fill="#b9b9b9" textLength="123.5" lengthAdjust="spacingAndGlyphs">Backups</text>
<text x="1596.2" y="944.1" font-size="31.35" fill="#b9b9b9" textLength="156.9" lengthAdjust="spacingAndGlyphs">Monitoring</text>
<text x="1595.8" y="1131.7" font-size="31.35" fill="#b9b9b9" textLength="201.3" lengthAdjust="spacingAndGlyphs">User sessions</text>
<text x="1598.7" y="1204.5" font-size="31.35" fill="#b9b9b9" textLength="207.2" lengthAdjust="spacingAndGlyphs">Wire protocols</text>
<text x="1526.3" y="1256.7" font-size="27.17" fill="#b9b9b9" textLength="264.2" lengthAdjust="spacingAndGlyphs">Native, gRPC, HTTP,</text>
<text x="1526.3" y="1298.7" font-size="27.17" fill="#b9b9b9" textLength="261.3" lengthAdjust="spacingAndGlyphs">MySQL, PostgreSQL</text>
<rect x="1584.3" y="972.3" width="248.7" height="68.4" rx="15" fill="#9ca0ab"/>
<text x="1602.2" y="1000.0" font-size="28.29" fill="#1c1c1c" textLength="215.9" lengthAdjust="spacing" stroke="#1c1c1c" stroke-width="0.55">ORTHOGONAL</text>
<text x="1601.4" y="1032.8" font-size="28.29" fill="#1c1c1c" textLength="218.3" lengthAdjust="spacing" stroke="#1c1c1c" stroke-width="0.55">COMPONENTS</text>
<rect x="1574.9" y="1353.0" width="258.1" height="41.7" rx="15" fill="#9ca0ab"/>
<text x="1591.0" y="1384.1" font-size="28.29" fill="#1c1c1c" textLength="228.7" lengthAdjust="spacing" stroke="#1c1c1c" stroke-width="0.55">ACCESS LAYER</text>
<path d="M1996.0,453.0 L1926.0,453.0" fill="none" stroke="#6a6a6a" stroke-width="2.8"/>
<polygon points="1912.0,453.0 1927.0,444.5 1927.0,461.5" fill="#6a6a6a"/>
<path d="M2121.5,1147.0 L2121.5,1284.0 L1928.7,1284.0" fill="none" stroke="#6a6a6a" stroke-width="2.8"/>
<polygon points="1914.7,1284.0 1929.7,1275.5 1929.7,1292.5" fill="#6a6a6a"/>
<rect x="1996.5" y="73.8" width="233.8" height="658.8" rx="10.95" fill="url(#gpanel)" stroke="#626262" stroke-width="3.1"/>
<rect x="1996.5" y="769.8" width="233.8" height="377.2" rx="10.95" fill="url(#gpanel)" stroke="#626262" stroke-width="3.1"/>
<g fill="none" stroke="#c4c4c4" stroke-width="3.5" stroke-linecap="round" stroke-linejoin="round"><ellipse cx="2113.1" cy="118.5" rx="17.9" ry="9.9"/><path d="M2095.2,118.5V138.3A17.9 9.9 0 0 0 2131.0,138.3V118.5 M2095.2,128.4A17.9 9.9 0 0 0 2131.0,128.4"/></g>
<text x="2053.8" y="187.3" font-size="31.35" fill="#b9b9b9" textLength="119.2" lengthAdjust="spacingAndGlyphs">External</text>
<text x="2068.7" y="223.5" font-size="31.35" fill="#b9b9b9" textLength="88.6" lengthAdjust="spacingAndGlyphs">DBMS</text>
<g fill="none" stroke="#c4c4c4" stroke-width="3.5" stroke-linecap="round" stroke-linejoin="round"><ellipse cx="2112.8" cy="284.6" rx="17.9" ry="9.9"/><path d="M2094.9,284.6V304.4A17.9 9.9 0 0 0 2130.7000000000003,304.4V284.6 M2094.9,294.5A17.9 9.9 0 0 0 2130.7000000000003,294.5"/></g>
<g fill="none" stroke="#c4c4c4" stroke-width="3.5" stroke-linecap="round" stroke-linejoin="round"><circle cx="2132.8" cy="309.8" r="19.2" fill="#3e3e3e"/></g>
<g fill="#c4c4c4"><polygon points="2132.6,295.0 2125.9,306.4 2139.2,306.4"/><circle cx="2126" cy="316" r="6.1"/><rect x="2135.9" y="311.7" width="9.2" height="9.1"/></g>
<text x="2027.7" y="353.7" font-size="31.35" fill="#b9b9b9" textLength="169.3" lengthAdjust="spacingAndGlyphs">Data Lakes/</text>
<text x="2016.8" y="388.2" font-size="31.35" fill="#b9b9b9" textLength="193.2" lengthAdjust="spacingAndGlyphs">Object stores</text>
<g fill="none" stroke="#c4c4c4" stroke-width="3.5" stroke-linecap="round" stroke-linejoin="round"><ellipse cx="2112.8" cy="450.6" rx="17.9" ry="9.9"/><path d="M2094.9,450.6V470.4A17.9 9.9 0 0 0 2130.7000000000003,470.4V450.6 M2094.9,460.5A17.9 9.9 0 0 0 2130.7000000000003,460.5"/></g>
<g fill="none" stroke="#c4c4c4" stroke-width="3.5" stroke-linecap="round" stroke-linejoin="round"><circle cx="2138.1" cy="477.4" r="15.8" fill="#3b3b3b"/></g>
<g fill="#c4c4c4" stroke="#c4c4c4" stroke-width="1.6"><path d="M2138.2,477.2V468.8 M2138.2,477.2L2130.8,481.4 M2138.2,477.2L2145.6,481.4" fill="none"/><circle cx="2138.2" cy="477.2" r="2.3"/><circle cx="2138.2" cy="468.6" r="1.7"/><circle cx="2130.8" cy="481.4" r="1.7"/><circle cx="2145.6" cy="481.4" r="1.7"/><circle cx="2130.8" cy="473.0" r="1.1"/><circle cx="2145.6" cy="473.0" r="1.1"/><circle cx="2138.2" cy="485.8" r="1.1"/></g>
<text x="2052.6" y="519.5" font-size="31.35" fill="#b9b9b9" textLength="120.4" lengthAdjust="spacingAndGlyphs">Pub/sub</text>
<text x="2053.9" y="555.2" font-size="31.35" fill="#b9b9b9" textLength="119.4" lengthAdjust="spacingAndGlyphs">systems</text>
<g fill="none" stroke="#c4c4c4" stroke-width="3.5" stroke-linecap="round" stroke-linejoin="round"><ellipse cx="2112.8" cy="616.6" rx="17.9" ry="9.9"/><path d="M2094.9,616.6V636.4A17.9 9.9 0 0 0 2130.7000000000003,636.4V616.6 M2094.9,626.5A17.9 9.9 0 0 0 2130.7000000000003,626.5"/></g>
<g fill="none" stroke="#c4c4c4" stroke-width="3.5" stroke-linecap="round" stroke-linejoin="round"><circle cx="2132.8" cy="638.5" r="19.2" fill="#393939"/></g>
<g fill="none" stroke="#c4c4c4" stroke-linejoin="miter"><path d="M2132.4,627.6L2141.8,632.6L2132.4,637.6L2123.0,632.6Z" stroke-width="2.6"/><path d="M2121.1,636.0L2132.4,642.0L2143.7000000000003,636.0 M2121.1,640.2L2132.4,646.2L2143.7000000000003,640.2 M2121.1,644.4L2132.4,650.4L2143.7000000000003,644.4" stroke-width="2.4"/></g>
<text x="2043.2" y="685.2" font-size="31.35" fill="#b9b9b9" textLength="139.6" lengthAdjust="spacingAndGlyphs">KV stores</text>
<g fill="none" stroke="#c4c4c4" stroke-width="3.3" stroke-linecap="round" stroke-linejoin="round"><circle cx="2113.5" cy="827.8" r="8.3"/><path d="M2101.5,843.6 Q2113.5,828.6 2125.5,843.6"/><path d="M2106.14,814.70A6.5 6.5 0 1 0 2100.83,822.00"/><path d="M2089.5,828.4 Q2094.0,823.0 2100.5,822.9"/><path d="M2120.86,814.70A6.5 6.5 0 1 1 2126.17,822.00"/><path d="M2137.5,828.4 Q2133.0,823.0 2126.5,822.9"/></g>
<text x="2071.3" y="886.9" font-size="31.35" fill="#b9b9b9" textLength="84.2" lengthAdjust="spacingAndGlyphs">Users</text>
<path d="M2113.4,924.2 L2113.4,973.1" fill="none" stroke="#6a6a6a" stroke-width="2.8"/>
<polygon points="2113.4,987.1 2104.9,972.1 2121.9,972.1" fill="#6a6a6a"/>
<g fill="none" stroke="#c4c4c4" stroke-width="3.3" stroke-linecap="round" stroke-linejoin="round"><path d="M2092.5,1047.6V1021.6A4.2 4.2 0 0 1 2096.7,1017.4H2130.3A4.2 4.2 0 0 1 2134.5,1021.6V1047.6"/><path d="M2089.5,1047.6H2137.5V1051.5A5 5 0 0 1 2132.5,1056.5H2094.5A5 5 0 0 1 2089.5,1051.5Z"/><path d="M2109.9,1026.5H2120.3"/></g>
<text x="2077.7" y="1100.9" font-size="31.35" fill="#b9b9b9" textLength="72.9" lengthAdjust="spacingAndGlyphs">Apps</text>
<text x="2071.0" y="1335.5" font-size="31.35" fill="#9a9a9a" font-weight="700" textLength="105.9" lengthAdjust="spacingAndGlyphs">Drivers</text>
<text x="2020.3" y="1371.1" font-size="31.35" fill="#909090" textLength="207.7" lengthAdjust="spacingAndGlyphs">JDBC / ODBC /</text>
<text x="2013.9" y="1407.5" font-size="31.35" fill="#909090" textLength="220.5" lengthAdjust="spacingAndGlyphs">Python / Go / ...</text>
</svg>
</body></html>
